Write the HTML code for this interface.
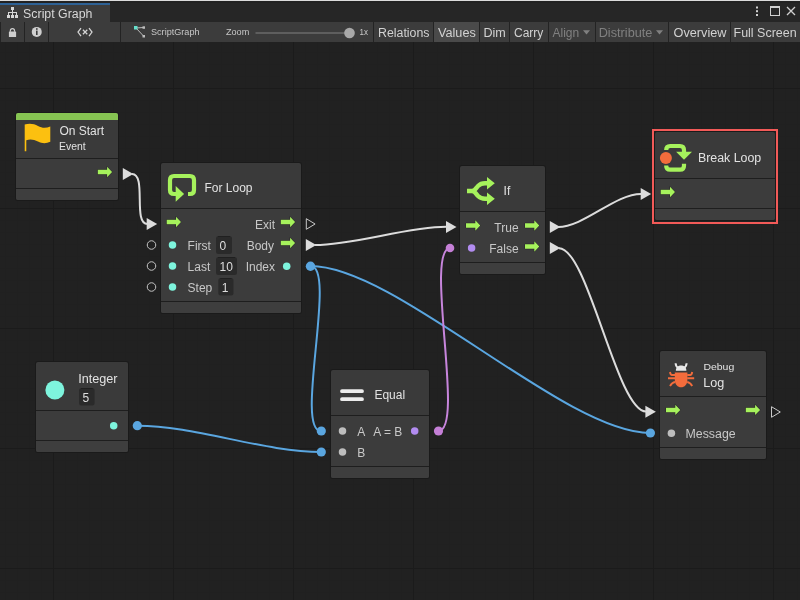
<!DOCTYPE html>
<html><head><meta charset="utf-8"><style>
html,body{margin:0;padding:0;background:#212121;width:800px;height:600px;overflow:hidden}
svg{display:block;will-change:transform}
text{font-family:"Liberation Sans", sans-serif}
</style></head><body>
<svg width="800" height="600" viewBox="0 0 800 600">
<rect x="0" y="0" width="800" height="600" fill="#212121" />
<rect x="5" y="42" width="1" height="558" fill="#202020" />
<rect x="17" y="42" width="1" height="558" fill="#202020" />
<rect x="29" y="42" width="1" height="558" fill="#202020" />
<rect x="41" y="42" width="1" height="558" fill="#202020" />
<rect x="65" y="42" width="1" height="558" fill="#202020" />
<rect x="77" y="42" width="1" height="558" fill="#202020" />
<rect x="89" y="42" width="1" height="558" fill="#202020" />
<rect x="101" y="42" width="1" height="558" fill="#202020" />
<rect x="113" y="42" width="1" height="558" fill="#202020" />
<rect x="125" y="42" width="1" height="558" fill="#202020" />
<rect x="137" y="42" width="1" height="558" fill="#202020" />
<rect x="149" y="42" width="1" height="558" fill="#202020" />
<rect x="161" y="42" width="1" height="558" fill="#202020" />
<rect x="185" y="42" width="1" height="558" fill="#202020" />
<rect x="197" y="42" width="1" height="558" fill="#202020" />
<rect x="209" y="42" width="1" height="558" fill="#202020" />
<rect x="221" y="42" width="1" height="558" fill="#202020" />
<rect x="233" y="42" width="1" height="558" fill="#202020" />
<rect x="245" y="42" width="1" height="558" fill="#202020" />
<rect x="257" y="42" width="1" height="558" fill="#202020" />
<rect x="269" y="42" width="1" height="558" fill="#202020" />
<rect x="281" y="42" width="1" height="558" fill="#202020" />
<rect x="305" y="42" width="1" height="558" fill="#202020" />
<rect x="317" y="42" width="1" height="558" fill="#202020" />
<rect x="329" y="42" width="1" height="558" fill="#202020" />
<rect x="341" y="42" width="1" height="558" fill="#202020" />
<rect x="353" y="42" width="1" height="558" fill="#202020" />
<rect x="365" y="42" width="1" height="558" fill="#202020" />
<rect x="377" y="42" width="1" height="558" fill="#202020" />
<rect x="389" y="42" width="1" height="558" fill="#202020" />
<rect x="401" y="42" width="1" height="558" fill="#202020" />
<rect x="425" y="42" width="1" height="558" fill="#202020" />
<rect x="437" y="42" width="1" height="558" fill="#202020" />
<rect x="449" y="42" width="1" height="558" fill="#202020" />
<rect x="461" y="42" width="1" height="558" fill="#202020" />
<rect x="473" y="42" width="1" height="558" fill="#202020" />
<rect x="485" y="42" width="1" height="558" fill="#202020" />
<rect x="497" y="42" width="1" height="558" fill="#202020" />
<rect x="509" y="42" width="1" height="558" fill="#202020" />
<rect x="521" y="42" width="1" height="558" fill="#202020" />
<rect x="545" y="42" width="1" height="558" fill="#202020" />
<rect x="557" y="42" width="1" height="558" fill="#202020" />
<rect x="569" y="42" width="1" height="558" fill="#202020" />
<rect x="581" y="42" width="1" height="558" fill="#202020" />
<rect x="593" y="42" width="1" height="558" fill="#202020" />
<rect x="605" y="42" width="1" height="558" fill="#202020" />
<rect x="617" y="42" width="1" height="558" fill="#202020" />
<rect x="629" y="42" width="1" height="558" fill="#202020" />
<rect x="641" y="42" width="1" height="558" fill="#202020" />
<rect x="665" y="42" width="1" height="558" fill="#202020" />
<rect x="677" y="42" width="1" height="558" fill="#202020" />
<rect x="689" y="42" width="1" height="558" fill="#202020" />
<rect x="701" y="42" width="1" height="558" fill="#202020" />
<rect x="713" y="42" width="1" height="558" fill="#202020" />
<rect x="725" y="42" width="1" height="558" fill="#202020" />
<rect x="737" y="42" width="1" height="558" fill="#202020" />
<rect x="749" y="42" width="1" height="558" fill="#202020" />
<rect x="761" y="42" width="1" height="558" fill="#202020" />
<rect x="785" y="42" width="1" height="558" fill="#202020" />
<rect x="797" y="42" width="1" height="558" fill="#202020" />
<rect x="0" y="52" width="800" height="1" fill="#202020" />
<rect x="0" y="64" width="800" height="1" fill="#202020" />
<rect x="0" y="76" width="800" height="1" fill="#202020" />
<rect x="0" y="100" width="800" height="1" fill="#202020" />
<rect x="0" y="112" width="800" height="1" fill="#202020" />
<rect x="0" y="124" width="800" height="1" fill="#202020" />
<rect x="0" y="136" width="800" height="1" fill="#202020" />
<rect x="0" y="148" width="800" height="1" fill="#202020" />
<rect x="0" y="160" width="800" height="1" fill="#202020" />
<rect x="0" y="172" width="800" height="1" fill="#202020" />
<rect x="0" y="184" width="800" height="1" fill="#202020" />
<rect x="0" y="196" width="800" height="1" fill="#202020" />
<rect x="0" y="220" width="800" height="1" fill="#202020" />
<rect x="0" y="232" width="800" height="1" fill="#202020" />
<rect x="0" y="244" width="800" height="1" fill="#202020" />
<rect x="0" y="256" width="800" height="1" fill="#202020" />
<rect x="0" y="268" width="800" height="1" fill="#202020" />
<rect x="0" y="280" width="800" height="1" fill="#202020" />
<rect x="0" y="292" width="800" height="1" fill="#202020" />
<rect x="0" y="304" width="800" height="1" fill="#202020" />
<rect x="0" y="316" width="800" height="1" fill="#202020" />
<rect x="0" y="340" width="800" height="1" fill="#202020" />
<rect x="0" y="352" width="800" height="1" fill="#202020" />
<rect x="0" y="364" width="800" height="1" fill="#202020" />
<rect x="0" y="376" width="800" height="1" fill="#202020" />
<rect x="0" y="388" width="800" height="1" fill="#202020" />
<rect x="0" y="400" width="800" height="1" fill="#202020" />
<rect x="0" y="412" width="800" height="1" fill="#202020" />
<rect x="0" y="424" width="800" height="1" fill="#202020" />
<rect x="0" y="436" width="800" height="1" fill="#202020" />
<rect x="0" y="460" width="800" height="1" fill="#202020" />
<rect x="0" y="472" width="800" height="1" fill="#202020" />
<rect x="0" y="484" width="800" height="1" fill="#202020" />
<rect x="0" y="496" width="800" height="1" fill="#202020" />
<rect x="0" y="508" width="800" height="1" fill="#202020" />
<rect x="0" y="520" width="800" height="1" fill="#202020" />
<rect x="0" y="532" width="800" height="1" fill="#202020" />
<rect x="0" y="544" width="800" height="1" fill="#202020" />
<rect x="0" y="556" width="800" height="1" fill="#202020" />
<rect x="0" y="580" width="800" height="1" fill="#202020" />
<rect x="0" y="592" width="800" height="1" fill="#202020" />
<rect x="53" y="42" width="1" height="558" fill="#1b1b1b" />
<rect x="173" y="42" width="1" height="558" fill="#1b1b1b" />
<rect x="293" y="42" width="1" height="558" fill="#1b1b1b" />
<rect x="413" y="42" width="1" height="558" fill="#1b1b1b" />
<rect x="533" y="42" width="1" height="558" fill="#1b1b1b" />
<rect x="653" y="42" width="1" height="558" fill="#1b1b1b" />
<rect x="773" y="42" width="1" height="558" fill="#1b1b1b" />
<rect x="0" y="88" width="800" height="1" fill="#1b1b1b" />
<rect x="0" y="208" width="800" height="1" fill="#1b1b1b" />
<rect x="0" y="328" width="800" height="1" fill="#1b1b1b" />
<rect x="0" y="448" width="800" height="1" fill="#1b1b1b" />
<rect x="0" y="568" width="800" height="1" fill="#1b1b1b" />
<rect x="0" y="0" width="800" height="1" fill="#dcdcdc" />
<rect x="0" y="1" width="800" height="21" fill="#262626" />
<rect x="0" y="1" width="800" height="2" fill="#222222" />
<rect x="0" y="3" width="110" height="2" fill="#2d6195" />
<rect x="0" y="5" width="110" height="17" fill="#3c3c3c" />
<rect x="11" y="7" width="3" height="3" fill="#d8d8d8" />
<rect x="12" y="10" width="1" height="2.5" fill="#d8d8d8" />
<rect x="8" y="12" width="9" height="1" fill="#d8d8d8" />
<rect x="8" y="13" width="1" height="2" fill="#d8d8d8" />
<rect x="12" y="13" width="1" height="2" fill="#d8d8d8" />
<rect x="16" y="13" width="1" height="2" fill="#d8d8d8" />
<rect x="7" y="15" width="3" height="3" fill="#d8d8d8" />
<rect x="11" y="15" width="3" height="3" fill="#d8d8d8" />
<rect x="15" y="15" width="3" height="3" fill="#d8d8d8" />
<text x="23.10" y="17.5" font-size="12" fill="#d8d8d8" text-anchor="start" textLength="69.36" lengthAdjust="spacingAndGlyphs" >Script Graph</text>
<rect x="756" y="6.5" width="2" height="2" fill="#d0d0d0" />
<rect x="756" y="10.2" width="2" height="2" fill="#d0d0d0" />
<rect x="756" y="14" width="2" height="2" fill="#d0d0d0" />
<rect x="770.5" y="6.5" width="9" height="9" fill="none" stroke="#d0d0d0" stroke-width="1"/>
<rect x="770" y="6" width="10" height="2" fill="#d0d0d0" />
<path d="M787,7 L795,15 M795,7 L787,15" stroke="#d0d0d0" stroke-width="1.3" fill="none"/>
<rect x="0" y="22" width="800" height="20" fill="#3c3c3c" />
<rect x="0" y="22" width="1" height="20" fill="#232323" />
<rect x="24" y="22" width="1" height="20" fill="#232323" />
<rect x="48" y="22" width="1" height="20" fill="#232323" />
<rect x="120" y="22" width="1" height="20" fill="#232323" />
<rect x="373" y="22" width="1" height="20" fill="#232323" />
<path d="M10.35,31.8 V30.7 A2.1,2.1 0 0 1 14.55,30.7 V31.8" stroke="#cfcfcf" stroke-width="1.2" fill="none"/>
<rect x="8.9" y="31.6" width="7.2" height="5.5" fill="#cfcfcf" rx="0.4"/>
<circle cx="36.75" cy="31.9" r="5" fill="#cfcfcf"/>
<rect x="36" y="28.2" width="1.6" height="1.6" fill="#3c3c3c" />
<rect x="36" y="30.6" width="1.6" height="4.4" fill="#3c3c3c" />
<path d="M81,28 L78,32 L81,36 M89,28 L92,32 L89,36 M82.9,29.8 L87.3,34.2 M87.3,29.8 L82.9,34.2" stroke="#d4d4d4" stroke-width="1.25" fill="none"/>
<path d="M136,28 L143.5,27.5 M136,28 L143.5,36" stroke="#bcbcbc" stroke-width="1" fill="none"/>
<rect x="134" y="26" width="3.5" height="3.5" fill="#66e0cc" />
<rect x="142.5" y="26.3" width="2.5" height="2.5" fill="#bcbcbc" />
<rect x="142.5" y="35" width="2.5" height="2.5" fill="#bcbcbc" />
<text x="151.00" y="35" font-size="9.1" fill="#c8c8c8" text-anchor="start"  >ScriptGraph</text>
<text x="226.00" y="35.4" font-size="9.1" fill="#c8c8c8" text-anchor="start"  >Zoom</text>
<rect x="255.5" y="32" width="94" height="2" fill="#5e5e5e" />
<circle cx="349.5" cy="33" r="5.3" fill="#a8a8a8"/>
<text x="359.50" y="35.4" font-size="9.1" fill="#c8c8c8" text-anchor="start" textLength="8.41" lengthAdjust="spacingAndGlyphs" >1x</text>
<rect x="374" y="22" width="59" height="20" fill="#3c3c3c" />
<rect x="433" y="22" width="1" height="20" fill="#232323" />
<text x="378.00" y="37" font-size="12" fill="#d2d2d2" text-anchor="start" textLength="51.53" lengthAdjust="spacingAndGlyphs" >Relations</text>
<rect x="434" y="22" width="45" height="20" fill="#4a4a4a" />
<rect x="479" y="22" width="1" height="20" fill="#232323" />
<text x="438.00" y="37" font-size="12" fill="#d2d2d2" text-anchor="start" textLength="37.80" lengthAdjust="spacingAndGlyphs" >Values</text>
<rect x="480" y="22" width="29" height="20" fill="#3c3c3c" />
<rect x="509" y="22" width="1" height="20" fill="#232323" />
<text x="483.50" y="37" font-size="12" fill="#d2d2d2" text-anchor="start" textLength="22.33" lengthAdjust="spacingAndGlyphs" >Dim</text>
<rect x="510" y="22" width="38" height="20" fill="#3c3c3c" />
<rect x="548" y="22" width="1" height="20" fill="#232323" />
<text x="514.00" y="37" font-size="12" fill="#d2d2d2" text-anchor="start"  >Carry</text>
<rect x="549" y="22" width="46" height="20" fill="#3c3c3c" />
<rect x="595" y="22" width="1" height="20" fill="#232323" />
<text x="552.50" y="37" font-size="12" fill="#808080" text-anchor="start"  >Align</text>
<path d="M583,30.3 h7 l-3.5,4.3 z" fill="#808080"/>
<rect x="596" y="22" width="72" height="20" fill="#3c3c3c" />
<rect x="668" y="22" width="1" height="20" fill="#232323" />
<text x="598.70" y="37" font-size="12" fill="#808080" text-anchor="start" textLength="53.68" lengthAdjust="spacingAndGlyphs" >Distribute</text>
<path d="M656,30.3 h7 l-3.5,4.3 z" fill="#808080"/>
<rect x="669" y="22" width="61" height="20" fill="#3c3c3c" />
<rect x="730" y="22" width="1" height="20" fill="#232323" />
<text x="673.50" y="37" font-size="12" fill="#d2d2d2" text-anchor="start" textLength="53.01" lengthAdjust="spacingAndGlyphs" >Overview</text>
<rect x="731" y="22" width="69" height="20" fill="#3c3c3c" />
<rect x="800" y="22" width="1" height="20" fill="#232323" />
<text x="733.50" y="37" font-size="12" fill="#d2d2d2" text-anchor="start" textLength="63.19" lengthAdjust="spacingAndGlyphs" >Full Screen</text>
<rect x="373" y="22" width="1" height="20" fill="#232323" />
<path d="M132,174 C147,174 132.5,224 147.5,224" stroke="#dcdcdc" stroke-width="2" fill="none"/>
<path d="M315,245 C353.5,245 407.5,226.8 446,226.8" stroke="#dcdcdc" stroke-width="2" fill="none"/>
<path d="M558,227 C584,227 615,193.9 641,193.9" stroke="#dcdcdc" stroke-width="2" fill="none"/>
<path d="M559,248.2 C588,248.2 617,411.5 646,411.5" stroke="#dcdcdc" stroke-width="2" fill="none"/>
<path d="M310.5,266 C337.5,266 294,431 321,431" stroke="#5aa6e0" stroke-width="2" fill="none"/>
<path d="M310.5,266 C396.0,266 564.5,433 650,433" stroke="#5aa6e0" stroke-width="2" fill="none"/>
<path d="M137.5,425.75 C194.5,425.75 264.25,452 321.25,452" stroke="#5aa6e0" stroke-width="2" fill="none"/>
<path d="M438.5,430.8 C465.5,430.8 423.5,248 450.5,248" stroke="#c785dc" stroke-width="2" fill="none"/>
<rect x="15" y="112" width="104" height="89" rx="3" fill="#1a1a1a"/>
<rect x="16" y="113" width="102" height="87" rx="2" fill="#3a3a3a"/>
<rect x="16" y="158" width="102" height="1" fill="#1e1e1e" />
<rect x="16" y="159" width="102" height="29" fill="#3c3c3c" />
<rect x="16" y="188" width="102" height="1" fill="#1e1e1e" />
<path d="M16,189 H118 V198 Q118,200 116,200 H18 Q16,200 16,198 Z" fill="#3e3e3e"/>
<path d="M16,120 V115 Q16,113 18,113 H116 Q118,113 118,115 V120 Z" fill="#86c452"/>
<path d="M24.7,124.6 C29,123.2 34,123.6 38,126 C42,128.2 46,128.4 50.3,126.4 V141.8 C46,143.9 42,143.6 38,141.6 C34,139.4 30,139 26.3,140.2 V151.2 H24.7 Z" fill="#fcc010"/>
<text x="59.40" y="135" font-size="12" fill="#e2e2e2" text-anchor="start"  >On Start</text>
<text x="59.10" y="150" font-size="10" fill="#e2e2e2" text-anchor="start" textLength="26.57" lengthAdjust="spacingAndGlyphs" >Event</text>
<path d="M97.8,169.75 H107.1 V166.8 L112.1,172 L107.1,177.2 V174.25 H97.8 Z" fill="#a6f25c" stroke="#252325" stroke-width="1" paint-order="stroke"/>
<path d="M122.8,168 L133.3,174 L122.8,180 Z" fill="#dcdcdc"/>
<rect x="160" y="162" width="142" height="152" rx="3" fill="#1a1a1a"/>
<rect x="161" y="163" width="140" height="150" rx="2" fill="#3a3a3a"/>
<rect x="161" y="208" width="140" height="1" fill="#1e1e1e" />
<rect x="161" y="209" width="140" height="92" fill="#3c3c3c" />
<rect x="161" y="301" width="140" height="1" fill="#1e1e1e" />
<path d="M161,302 H301 V311 Q301,313 299,313 H163 Q161,313 161,311 Z" fill="#3e3e3e"/>
<path d="M188,194 H190 Q194,194 194,190 V180 Q194,176 190,176 H174 Q170,176 170,180 V190 Q170,194 174,194 H177" stroke="#a6f25c" stroke-width="4.2" fill="none"/>
<path d="M175.7,186 L184.1,193.9 L175.7,201.8 Z" fill="#a6f25c"/>
<text x="204.50" y="192" font-size="12" fill="#e2e2e2" text-anchor="start"  >For Loop</text>
<path d="M146.7,218 L157.2,224 L146.7,230 Z" fill="#dcdcdc"/>
<path d="M166.7,219.75 H176.0 V216.8 L181.0,222 L176.0,227.2 V224.25 H166.7 Z" fill="#a6f25c" stroke="#252325" stroke-width="1" paint-order="stroke"/>
<text x="275.00" y="229" font-size="12" fill="#c8c8c8" text-anchor="end"  >Exit</text>
<path d="M280.8,219.75 H290.1 V216.8 L295.1,222 L290.1,227.2 V224.25 H280.8 Z" fill="#a6f25c" stroke="#252325" stroke-width="1" paint-order="stroke"/>
<path d="M306.3,218.7 L315.1,224 L306.3,229.3 Z" fill="none" stroke="#c8c8c8" stroke-width="1"/>
<circle cx="151.5" cy="245" r="4.25" fill="none" stroke="#c4c4c4" stroke-width="1"/>
<circle cx="172.5" cy="245" r="3.75" fill="#7ef4dd"/>
<text x="187.60" y="250" font-size="12" fill="#c8c8c8" text-anchor="start"  >First</text>
<circle cx="151.5" cy="266" r="4.25" fill="none" stroke="#c4c4c4" stroke-width="1"/>
<circle cx="172.5" cy="266" r="3.75" fill="#7ef4dd"/>
<text x="187.60" y="271" font-size="12" fill="#c8c8c8" text-anchor="start"  >Last</text>
<circle cx="151.5" cy="287" r="4.25" fill="none" stroke="#c4c4c4" stroke-width="1"/>
<circle cx="172.5" cy="287" r="3.75" fill="#7ef4dd"/>
<text x="187.60" y="292" font-size="12" fill="#c8c8c8" text-anchor="start"  >Step</text>
<rect x="216" y="236" width="16" height="18" rx="2.5" fill="#2a2a2a"/>
<rect x="218" y="236" width="12" height="1" fill="#202020" />
<text x="219.50" y="250.2" font-size="12" fill="#dedede" text-anchor="start"  >0</text>
<rect x="216" y="257" width="21" height="18" rx="2.5" fill="#2a2a2a"/>
<rect x="218" y="257" width="17" height="1" fill="#202020" />
<text x="219.50" y="271.2" font-size="12" fill="#dedede" text-anchor="start"  >10</text>
<rect x="218.3" y="278" width="15.199999999999989" height="17.5" rx="2.5" fill="#2a2a2a"/>
<rect x="220.3" y="278" width="11.199999999999989" height="1" fill="#202020" />
<text x="221.80" y="291.7" font-size="12" fill="#dedede" text-anchor="start"  >1</text>
<text x="274.00" y="250" font-size="12" fill="#c8c8c8" text-anchor="end"  >Body</text>
<path d="M280.8,240.75 H290.1 V237.8 L295.1,243 L290.1,248.2 V245.25 H280.8 Z" fill="#a6f25c" stroke="#252325" stroke-width="1" paint-order="stroke"/>
<path d="M305.8,239 L316.3,245 L305.8,251 Z" fill="#dcdcdc"/>
<text x="275.00" y="270.8" font-size="12" fill="#c8c8c8" text-anchor="end"  >Index</text>
<circle cx="286.7" cy="266.2" r="3.75" fill="#7ef4dd"/>
<circle cx="310.5" cy="266.2" r="4.7" fill="#5aa6e0"/>
<rect x="459" y="165" width="87" height="110" rx="3" fill="#1a1a1a"/>
<rect x="460" y="166" width="85" height="108" rx="2" fill="#3a3a3a"/>
<rect x="460" y="211" width="85" height="1" fill="#1e1e1e" />
<rect x="460" y="212" width="85" height="50" fill="#3c3c3c" />
<rect x="460" y="262" width="85" height="1" fill="#1e1e1e" />
<path d="M460,263 H545 V272 Q545,274 543,274 H462 Q460,274 460,272 Z" fill="#3e3e3e"/>
<path d="M467,191 H472 C475,191 476,188 478,186 C480,184 482,183.2 485,183.2 H488 M472,191 C475,191 476,194 478,196 C480,198 482,198.8 485,198.8 H488" stroke="#a6f25c" stroke-width="4.4" fill="none"/>
<path d="M487,176.9 L494.8,183.2 L487,189.5 Z M487,192.5 L494.8,198.8 L487,205.1 Z" fill="#a6f25c"/>
<text x="503.60" y="195.4" font-size="12" fill="#e2e2e2" text-anchor="start"  >If</text>
<path d="M446,221 L456.5,227 L446,233 Z" fill="#dcdcdc"/>
<path d="M466,223.25 H475.3 V220.3 L480.3,225.5 L475.3,230.7 V227.75 H466 Z" fill="#a6f25c" stroke="#252325" stroke-width="1" paint-order="stroke"/>
<text x="518.60" y="231.9" font-size="12" fill="#c8c8c8" text-anchor="end"  >True</text>
<path d="M525,223.25 H534.3 V220.3 L539.3,225.5 L534.3,230.7 V227.75 H525 Z" fill="#a6f25c" stroke="#252325" stroke-width="1" paint-order="stroke"/>
<path d="M549.8,221 L560.3,227 L549.8,233 Z" fill="#dcdcdc"/>
<circle cx="450" cy="248" r="4.3" fill="#c47fd6"/>
<circle cx="471.6" cy="248" r="3.75" fill="#b28cf0"/>
<text x="518.60" y="252.9" font-size="12" fill="#c8c8c8" text-anchor="end"  >False</text>
<path d="M525,244.25 H534.3 V241.3 L539.3,246.5 L534.3,251.7 V248.75 H525 Z" fill="#a6f25c" stroke="#252325" stroke-width="1" paint-order="stroke"/>
<path d="M549.8,242 L560.3,248 L549.8,254 Z" fill="#dcdcdc"/>
<rect x="653" y="130" width="124" height="93" fill="none" stroke="#f25a58" stroke-width="2"/>
<rect x="654" y="131" width="122" height="90" rx="3" fill="#1a1a1a"/>
<rect x="655" y="132" width="120" height="88" rx="2" fill="#3a3a3a"/>
<rect x="655" y="178" width="120" height="1" fill="#1e1e1e" />
<rect x="655" y="179" width="120" height="29" fill="#3c3c3c" />
<rect x="655" y="208" width="120" height="1" fill="#1e1e1e" />
<path d="M655,209 H775 V218 Q775,220 773,220 H657 Q655,220 655,218 Z" fill="#3e3e3e"/>
<path d="M666.2,150 V150 Q666.2,146 670.2,146 H680 Q684,146 684,150 V153 M666.2,165.5 V165.7 Q666.2,169.7 670.2,169.7 H680 Q684,169.7 684,165.7 V163.7" stroke="#a6f25c" stroke-width="4.2" fill="none"/>
<path d="M676.1,151.7 L692,151.7 L684,159.8 Z" fill="#a6f25c"/>
<circle cx="665.9" cy="158" r="6.8" fill="#3a3a3a"/>
<circle cx="665.9" cy="158" r="6" fill="#f36c3c"/>
<text x="697.90" y="161.8" font-size="12" fill="#e2e2e2" text-anchor="start" textLength="63.38" lengthAdjust="spacingAndGlyphs" >Break Loop</text>
<path d="M640.7,188 L651.2,194 L640.7,200 Z" fill="#dcdcdc"/>
<path d="M660.7,189.75 H670.0 V186.8 L675.0,192 L670.0,197.2 V194.25 H660.7 Z" fill="#a6f25c" stroke="#252325" stroke-width="1" paint-order="stroke"/>
<rect x="35" y="361" width="94" height="92" rx="3" fill="#1a1a1a"/>
<rect x="36" y="362" width="92" height="90" rx="2" fill="#3a3a3a"/>
<rect x="36" y="410" width="92" height="1" fill="#1e1e1e" />
<rect x="36" y="411" width="92" height="29" fill="#3c3c3c" />
<rect x="36" y="440" width="92" height="1" fill="#1e1e1e" />
<path d="M36,441 H128 V450 Q128,452 126,452 H38 Q36,452 36,450 Z" fill="#3e3e3e"/>
<circle cx="54.9" cy="390" r="9.5" fill="#7ef4dd"/>
<text x="78.20" y="383" font-size="12" fill="#e2e2e2" text-anchor="start" textLength="39.36" lengthAdjust="spacingAndGlyphs" >Integer</text>
<rect x="79" y="388" width="15.599999999999994" height="17.5" rx="2.5" fill="#2a2a2a"/>
<rect x="81" y="388" width="11.599999999999994" height="1" fill="#202020" />
<text x="82.50" y="401.7" font-size="12" fill="#dedede" text-anchor="start"  >5</text>
<circle cx="113.7" cy="425.7" r="3.75" fill="#7ef4dd"/>
<circle cx="137.3" cy="425.7" r="4.6" fill="#5aa6e0"/>
<rect x="330" y="369" width="100" height="110" rx="3" fill="#1a1a1a"/>
<rect x="331" y="370" width="98" height="108" rx="2" fill="#3a3a3a"/>
<rect x="331" y="415" width="98" height="1" fill="#1e1e1e" />
<rect x="331" y="416" width="98" height="50" fill="#3c3c3c" />
<rect x="331" y="466" width="98" height="1" fill="#1e1e1e" />
<path d="M331,467 H429 V476 Q429,478 427,478 H333 Q331,478 331,476 Z" fill="#3e3e3e"/>
<path d="M342,391.2 H362 M342,399.2 H362" stroke="#ececec" stroke-width="3.8" stroke-linecap="round" fill="none"/>
<text x="374.40" y="399.4" font-size="12" fill="#e2e2e2" text-anchor="start"  >Equal</text>
<circle cx="321.3" cy="431" r="4.6" fill="#5aa6e0"/>
<circle cx="342.5" cy="431" r="3.75" fill="#bdbdbd"/>
<text x="357.20" y="435.9" font-size="12" fill="#c8c8c8" text-anchor="start"  >A</text>
<text x="373.30" y="435.9" font-size="12" fill="#c8c8c8" text-anchor="start"  >A = B</text>
<circle cx="414.7" cy="431" r="3.75" fill="#b28cf0"/>
<circle cx="438.5" cy="431" r="4.6" fill="#c47fd6"/>
<circle cx="321.3" cy="452" r="4.6" fill="#5aa6e0"/>
<circle cx="342.5" cy="452" r="3.75" fill="#bdbdbd"/>
<text x="357.20" y="456.9" font-size="12" fill="#c8c8c8" text-anchor="start"  >B</text>
<rect x="659" y="350" width="108" height="110" rx="3" fill="#1a1a1a"/>
<rect x="660" y="351" width="106" height="108" rx="2" fill="#3a3a3a"/>
<rect x="660" y="396" width="106" height="1" fill="#1e1e1e" />
<rect x="660" y="397" width="106" height="50" fill="#3c3c3c" />
<rect x="660" y="447" width="106" height="1" fill="#1e1e1e" />
<path d="M660,448 H766 V457 Q766,459 764,459 H662 Q660,459 660,457 Z" fill="#3e3e3e"/>
<path d="M675.8,370.8 C675.8,367.5 678.5,365.6 681.1,365.6 C683.7,365.6 686.4,367.5 686.4,370.8 Z" fill="#e8e8e8"/>
<path d="M675.6,363.3 C675.8,366 677.2,367.5 678.5,368 M686.6,363.3 C686.4,366 685,367.5 683.7,368" stroke="#e8e8e8" stroke-width="2" fill="none"/>
<path d="M674.8,372.6 H687.4 V380 C687.4,384.5 684.5,387.3 681.1,387.3 C677.7,387.3 674.8,384.5 674.8,380 Z" fill="#f36c3c"/>
<path d="M675,375 H672 Q670.5,375 670,372 M687.2,375 H690.2 Q691.7,375 692.2,372 M668,378.3 H675 M687.2,378.3 H694.2 M675,382 Q672,382.5 670,386 M687.2,382 Q690.2,382.5 692.2,386" stroke="#f36c3c" stroke-width="1.9" fill="none"/>
<text x="703.40" y="370" font-size="9.7" fill="#e2e2e2" text-anchor="start" textLength="30.88" lengthAdjust="spacingAndGlyphs" >Debug</text>
<text x="703.30" y="387.1" font-size="12" fill="#e2e2e2" text-anchor="start" textLength="21.02" lengthAdjust="spacingAndGlyphs" >Log</text>
<path d="M645.4,405.8 L655.9,411.8 L645.4,417.8 Z" fill="#dcdcdc"/>
<path d="M666,407.65 H675.3 V404.7 L680.3,409.9 L675.3,415.09999999999997 V412.15 H666 Z" fill="#a6f25c" stroke="#252325" stroke-width="1" paint-order="stroke"/>
<path d="M745.8,407.65 H755.0999999999999 V404.7 L760.0999999999999,409.9 L755.0999999999999,415.09999999999997 V412.15 H745.8 Z" fill="#a6f25c" stroke="#252325" stroke-width="1" paint-order="stroke"/>
<path d="M771.5,406.7 L780.3,412 L771.5,417.3 Z" fill="none" stroke="#c8c8c8" stroke-width="1"/>
<circle cx="650.4" cy="433" r="4.6" fill="#5aa6e0"/>
<circle cx="671.4" cy="433.2" r="3.75" fill="#bdbdbd"/>
<text x="685.50" y="438" font-size="12" fill="#c8c8c8" text-anchor="start" textLength="50.19" lengthAdjust="spacingAndGlyphs" >Message</text>
</svg>
</body></html>
